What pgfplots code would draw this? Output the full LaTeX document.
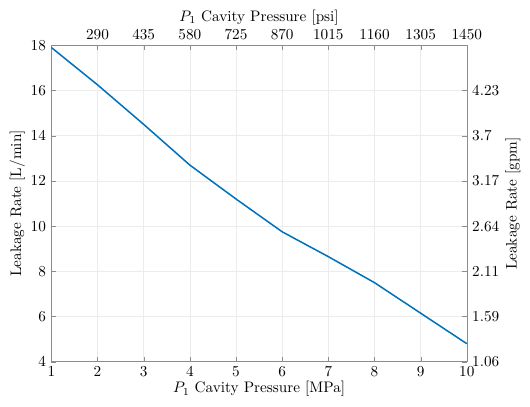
\documentclass[border=3pt]{standalone}
\usepackage{pgfplots}
\pgfplotsset{compat=1.18}
\definecolor{mblue}{RGB}{0,114,189}
\definecolor{axgray}{RGB}{140,140,140}
\begin{document}
\begin{tikzpicture}
\pgfplotsset{
  common/.style={
    width=273pt, height=208pt, scale only axis,
    xmin=1, xmax=10, ymin=4, ymax=18,
    tick align=inside, major tick length=3pt,
    axis line style={axgray}, tick style={axgray},
  }
}
\begin{axis}[common,
  axis x line*=bottom, axis y line*=left,
  xtick={1,...,10}, ytick={4,6,...,18},
  grid=major, grid style={gray!15},
  xlabel={$P_1$ Cavity Pressure [MPa]},
  ylabel={Leakage Rate [L/min]},
  xlabel style={yshift=4pt}, ylabel style={yshift=-3pt},
]
\addplot[mblue, line width=1pt] coordinates {
(1,17.9) (2,16.25) (3,14.5) (4,12.7) (5,11.2) (6,9.75) (7,8.65) (8,7.5) (9,6.15) (10,4.8)
};
\end{axis}
\begin{axis}[common,
  axis x line*=top, axis y line*=right,
  xtick={2,...,10}, xticklabels={290,435,580,725,870,1015,1160,1305,1450},
  ytick={4,6,...,16}, yticklabels={1.06,1.59,2.11,2.64,3.17,3.7,4.23},
  xlabel={$P_1$ Cavity Pressure [psi]},
  ylabel={Leakage Rate [gpm]},
  xlabel style={yshift=-4pt}, ylabel style={yshift=3pt},
]
\end{axis}
\end{tikzpicture}
\end{document}
